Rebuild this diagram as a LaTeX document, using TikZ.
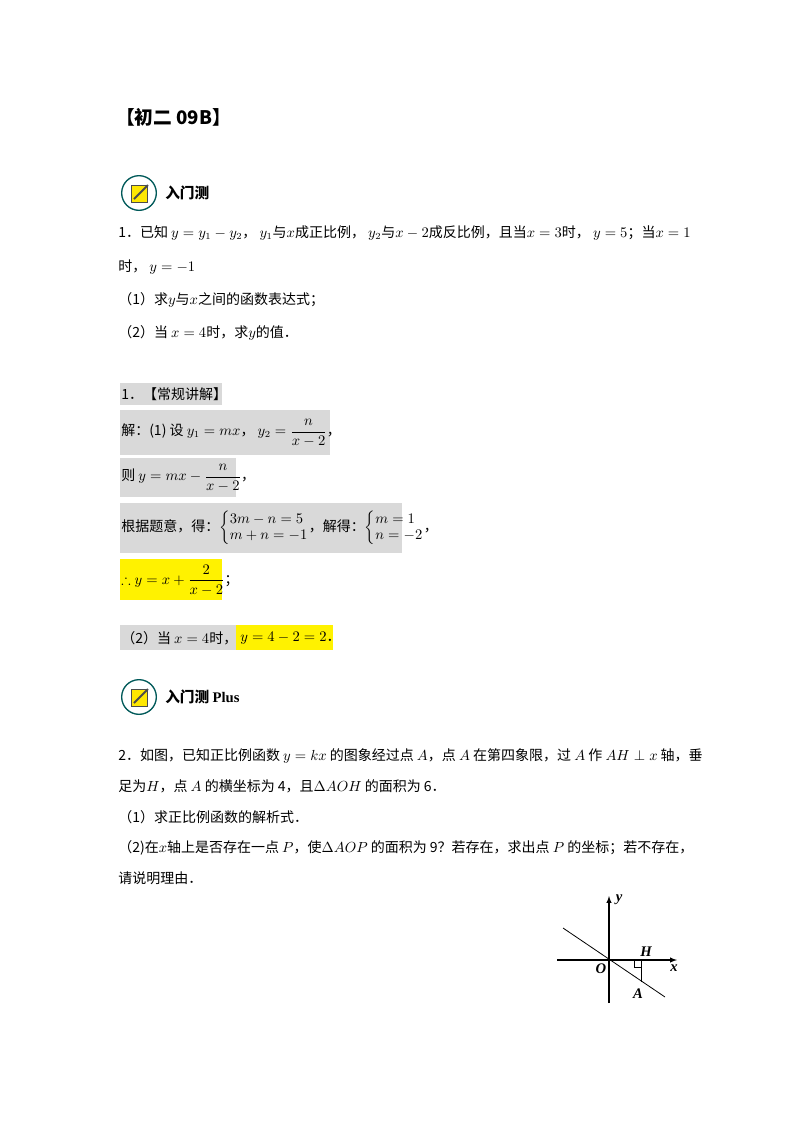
\documentclass[tikz,border=0pt]{standalone}
\usepackage{fontspec}
\usepackage{amsmath,amssymb}
\newfontfamily\cjk{Noto Sans CJK SC}
\setmainfont{Liberation Serif}
\begin{document}
\begin{tikzpicture}[x=0.75pt,y=-0.75pt,
  txt/.style={anchor=west,inner sep=0pt,font=\cjk\fontsize{10.5pt}{12pt}\selectfont},
  gbox/.style={fill=black!15,draw=none},
  ybox/.style={fill=yellow,draw=none},
  lab/.style={font=\bfseries\itshape\fontsize{11pt}{12pt}\selectfont,inner sep=0pt},
  ax/.style={line width=0.8pt,-latex}]
\useasboundingbox (0,0) rectangle (800,1132);
\node[txt,font=\bfseries\cjk\fontsize{14pt}{16pt}\selectfont] (title) at (116,117) {【初二 09B】};
% icons
\foreach \yy/\nm in {193/ic1,697/ic2}{
 \node[circle,draw=teal!70!black,line width=1pt,minimum size=26pt] (\nm) at (139,\yy) {};
 \fill[yellow!90!orange,draw=black!70] (131,\yy-8) rectangle (147,\yy+9);
 \draw[black!70,line width=1.5pt] (134,\yy+6) -- (148,\yy-8);
}
\node[txt,font=\bfseries\cjk\fontsize{11pt}{13pt}\selectfont] (h1) at (165,193) {入门测};
\node[txt,font=\bfseries\cjk\fontsize{11pt}{13pt}\selectfont] (h2) at (165,697) {入门测 \textrm{Plus}};
% problem 1
\node[txt] (l1) at (118,233) {1．已知 $y=y_1-y_2$， $y_1$与$x$成正比例， $y_2$与$x-2$成反比例，且当$x=3$时， $y=5$；当$x=1$};
\node[txt] (l2) at (118,267) {时， $y=-1$};
\node[txt] (l3) at (118,300) {（1）求$y$与$x$之间的函数表达式；};
\node[txt] (l4) at (118,333) {（2）当 $x=4$时，求$y$的值．};
% solution
\fill[gbox] (120,383) rectangle (222,405);
\node[txt] (s0) at (121,394) {1．【常规讲解】};
\fill[gbox] (120,410) rectangle (330,455);
\node[txt] (s1) at (121,433) {解：(1) 设 $y_1=mx$， $y_2=\dfrac{n}{x-2}$，};
\fill[gbox] (120,458) rectangle (236,497);
\node[txt] (s2) at (121,478) {则 $y=mx-\dfrac{n}{x-2}$，};
\fill[gbox] (120,503) rectangle (402,553);
\node[txt] (s3) at (121,528) {根据题意，得：$\left\{\begin{array}{@{}l@{}}3m-n=5\\ m+n=-1\end{array}\right.$，解得：$\left\{\begin{array}{@{}l@{}}m=1\\ n=-2\end{array}\right.$，};
\fill[ybox] (120,559) rectangle (222,600);
\node[txt] (s4) at (121,580) {$\therefore y=x+\dfrac{2}{x-2}$；};
\fill[gbox] (120,625) rectangle (236,650);
\node[txt] (s5) at (121,638) {（2）当 $x=4$时，};
\fill[ybox] (236,625) rectangle (333,650);
\node[txt] (s6) at (240,638) {$y=4-2=2$．};
% problem 2
\node[txt] (p1) at (118,756) {2．如图，已知正比例函数 $y=kx$ 的图象经过点 $A$，点 $A$ 在第四象限，过 $A$ 作 $AH\perp x$ 轴，垂};
\node[txt] (p2) at (118,786) {足为$H$，点 $A$ 的横坐标为 4，且$\Delta AOH$ 的面积为 6．};
\node[txt] (p3) at (118,817) {（1）求正比例函数的解析式．};
\node[txt] (p4) at (118,848) {（2)在$x$轴上是否存在一点 $P$，使$\Delta AOP$ 的面积为 9？若存在，求出点 $P$ 的坐标；若不存在，};
\node[txt] (p5) at (118,878) {请说明理由．};
% graph
\coordinate (O) at (609,960);
\coordinate (ybot) at (609,1003);
\coordinate (ytop) at (609,896);
\coordinate (xl) at (557,960);
\coordinate (xr) at (677,960);
\coordinate (H) at (641,960);
\coordinate (A) at (641,982);
\coordinate (L1) at (563,928);
\coordinate (L2) at (665,997);
\draw[ax] (ybot) -- (ytop);
\draw[ax] (xl) -- (xr);
\draw[line width=0.6pt] (L1) -- (L2);
\draw[line width=0.6pt] (H) -- (A);
\draw[line width=0.5pt] (634,960) -- (634,967) -- (641,967);
\node[lab] (lO) at (601,969) {O};
\node[lab] (lH) at (646,952) {H};
\node[lab] (lA) at (638,994) {A};
\node[lab] (lx) at (674,968) {x};
\node[lab] (ly) at (619,900) {y};
\end{tikzpicture}
\end{document}
